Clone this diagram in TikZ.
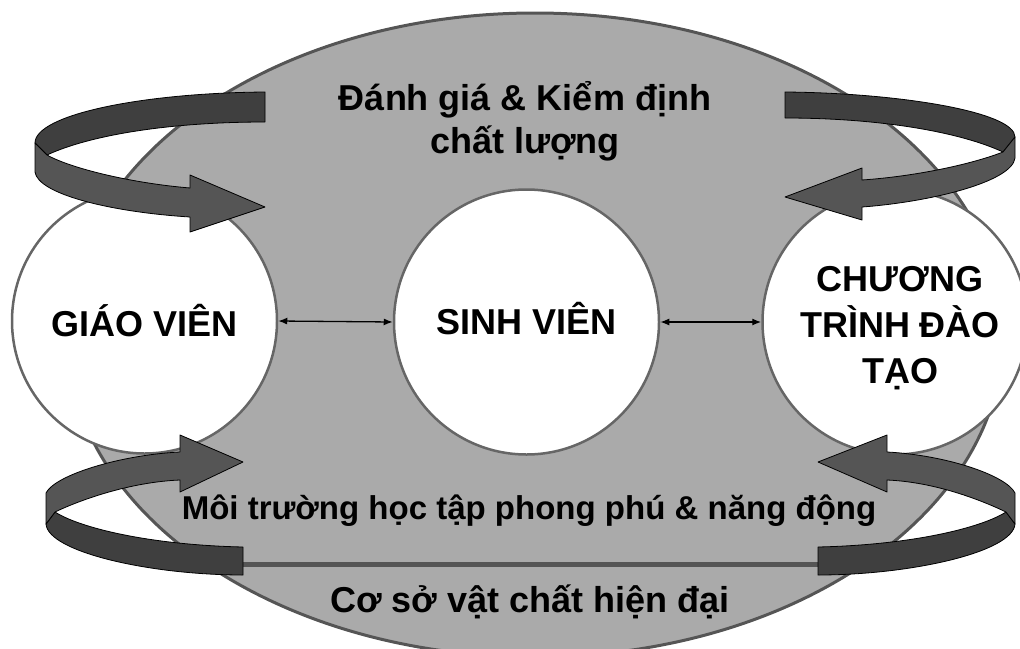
\documentclass[tikz,border=0pt]{standalone}
\usepackage{fontspec}
\setmainfont{Liberation Sans}
\usetikzlibrary{arrows.meta}
\definecolor{ellfill}{HTML}{AAAAAA}
\definecolor{elledge}{HTML}{555555}
\definecolor{circedge}{HTML}{666666}
\definecolor{ribdark}{HTML}{3F3F3F}
\definecolor{riblight}{HTML}{555555}
\begin{document}
\begin{tikzpicture}[x=1pt,y=-1pt,
  bubble/.style={circle, draw=circedge, line width=2.5pt, fill=white, minimum size=265pt, inner sep=0pt,
     font=\fontsize{36}{46}\selectfont\bfseries, align=center},
  link/.style={{Latex[length=9pt,width=7pt]}-{Latex[length=9pt,width=7pt]}, line width=1.3pt},
  backband/.style={fill=ribdark, draw=black, line width=0.8pt, line join=round},
  frontband/.style={fill=riblight, draw=black, line width=0.8pt, line join=round},
  caption/.style={font=\fontsize{36}{43}\selectfont\bfseries, align=center, inner sep=0pt},
]
\useasboundingbox (0,0) rectangle (1020,648);
\clip (0,0) rectangle (1020,648);

% background ellipse
\draw[fill=ellfill, draw=elledge, line width=3pt] (535,335) ellipse [x radius=468pt, y radius=322pt];

% ribbon tails joined by a bar
\coordinate (barL) at (243,564);
\coordinate (barR) at (818,564);
\draw[elledge, line width=5pt] (barL) -- (barR);

% circles
\node[bubble] (gv) at (144.5,321) {GIÁO VIÊN};
\node[bubble, text depth=8pt] (sv) at (526.5,322) {SINH VIÊN};
\node[bubble, text height=130pt] (ct) at (895,322) {\hspace*{10pt}CHƯƠNG\\\hspace*{10pt}TRÌNH ĐÀO\\\hspace*{10pt}TẠO};

\draw[link] (gv.east) -- (sv.west);
\draw[link] (sv.east) -- (ct.west);

% top-left ribbon
\draw[backband] (265,92) .. controls (140,93) and (35,115) .. (35,143) -- (47,155)
   .. controls (90,135) and (170,122) .. (265,122) -- cycle;
\draw[frontband] (35,143) -- (47,155) .. controls (70,168) and (130,183) .. (190,188)
   -- (190,175) -- (265,207) -- (190,232) -- (190,217)
   .. controls (110,212) and (38,194) .. (35,172) -- cycle;

% top-right ribbon
\draw[backband] (785,92) .. controls (900,93) and (1015,112) .. (1015,137) -- (1003,152)
   .. controls (960,132) and (880,118) .. (785,118) -- cycle;
\draw[frontband] (1015,137) -- (1003,152) .. controls (975,163) and (920,176) .. (862,180)
   -- (862,168) -- (785,197) -- (862,220) -- (862,207)
   .. controls (930,202) and (1012,182) .. (1015,158) -- cycle;

% bottom-left ribbon
\draw[backband] (55,512) .. controls (80,528) and (150,545) .. (243,547) -- (243,575)
   .. controls (150,575) and (48,552) .. (46,524) -- cycle;
\draw[frontband] (46,493) .. controls (55,475) and (120,455) .. (180,452)
   -- (180,435) -- (243,462) -- (180,492) -- (180,480)
   .. controls (130,482) and (80,500) .. (55,512) -- (46,524) -- cycle;

% bottom-right ribbon
\draw[backband] (1006,512) .. controls (981,528) and (911,545) .. (818,547) -- (818,575)
   .. controls (911,575) and (1013,552) .. (1015,524) -- cycle;
\draw[frontband] (1015,493) .. controls (1006,475) and (945,455) .. (887,452)
   -- (887,435) -- (818,462) -- (887,492) -- (887,480)
   .. controls (935,482) and (981,500) .. (1006,512) -- (1015,524) -- cycle;

% texts
\node[caption, anchor=base] (t1) at (525,153) {Đánh giá \& Kiểm định\\chất lượng};
\node[caption, anchor=base, font=\fontsize{33}{40}\selectfont\bfseries] (t2) at (529,519) {Môi trường học tập phong phú \& năng động};
\node[caption, anchor=base] (t3) at (530,612) {Cơ sở vật chất hiện đại};
\end{tikzpicture}
\end{document}
